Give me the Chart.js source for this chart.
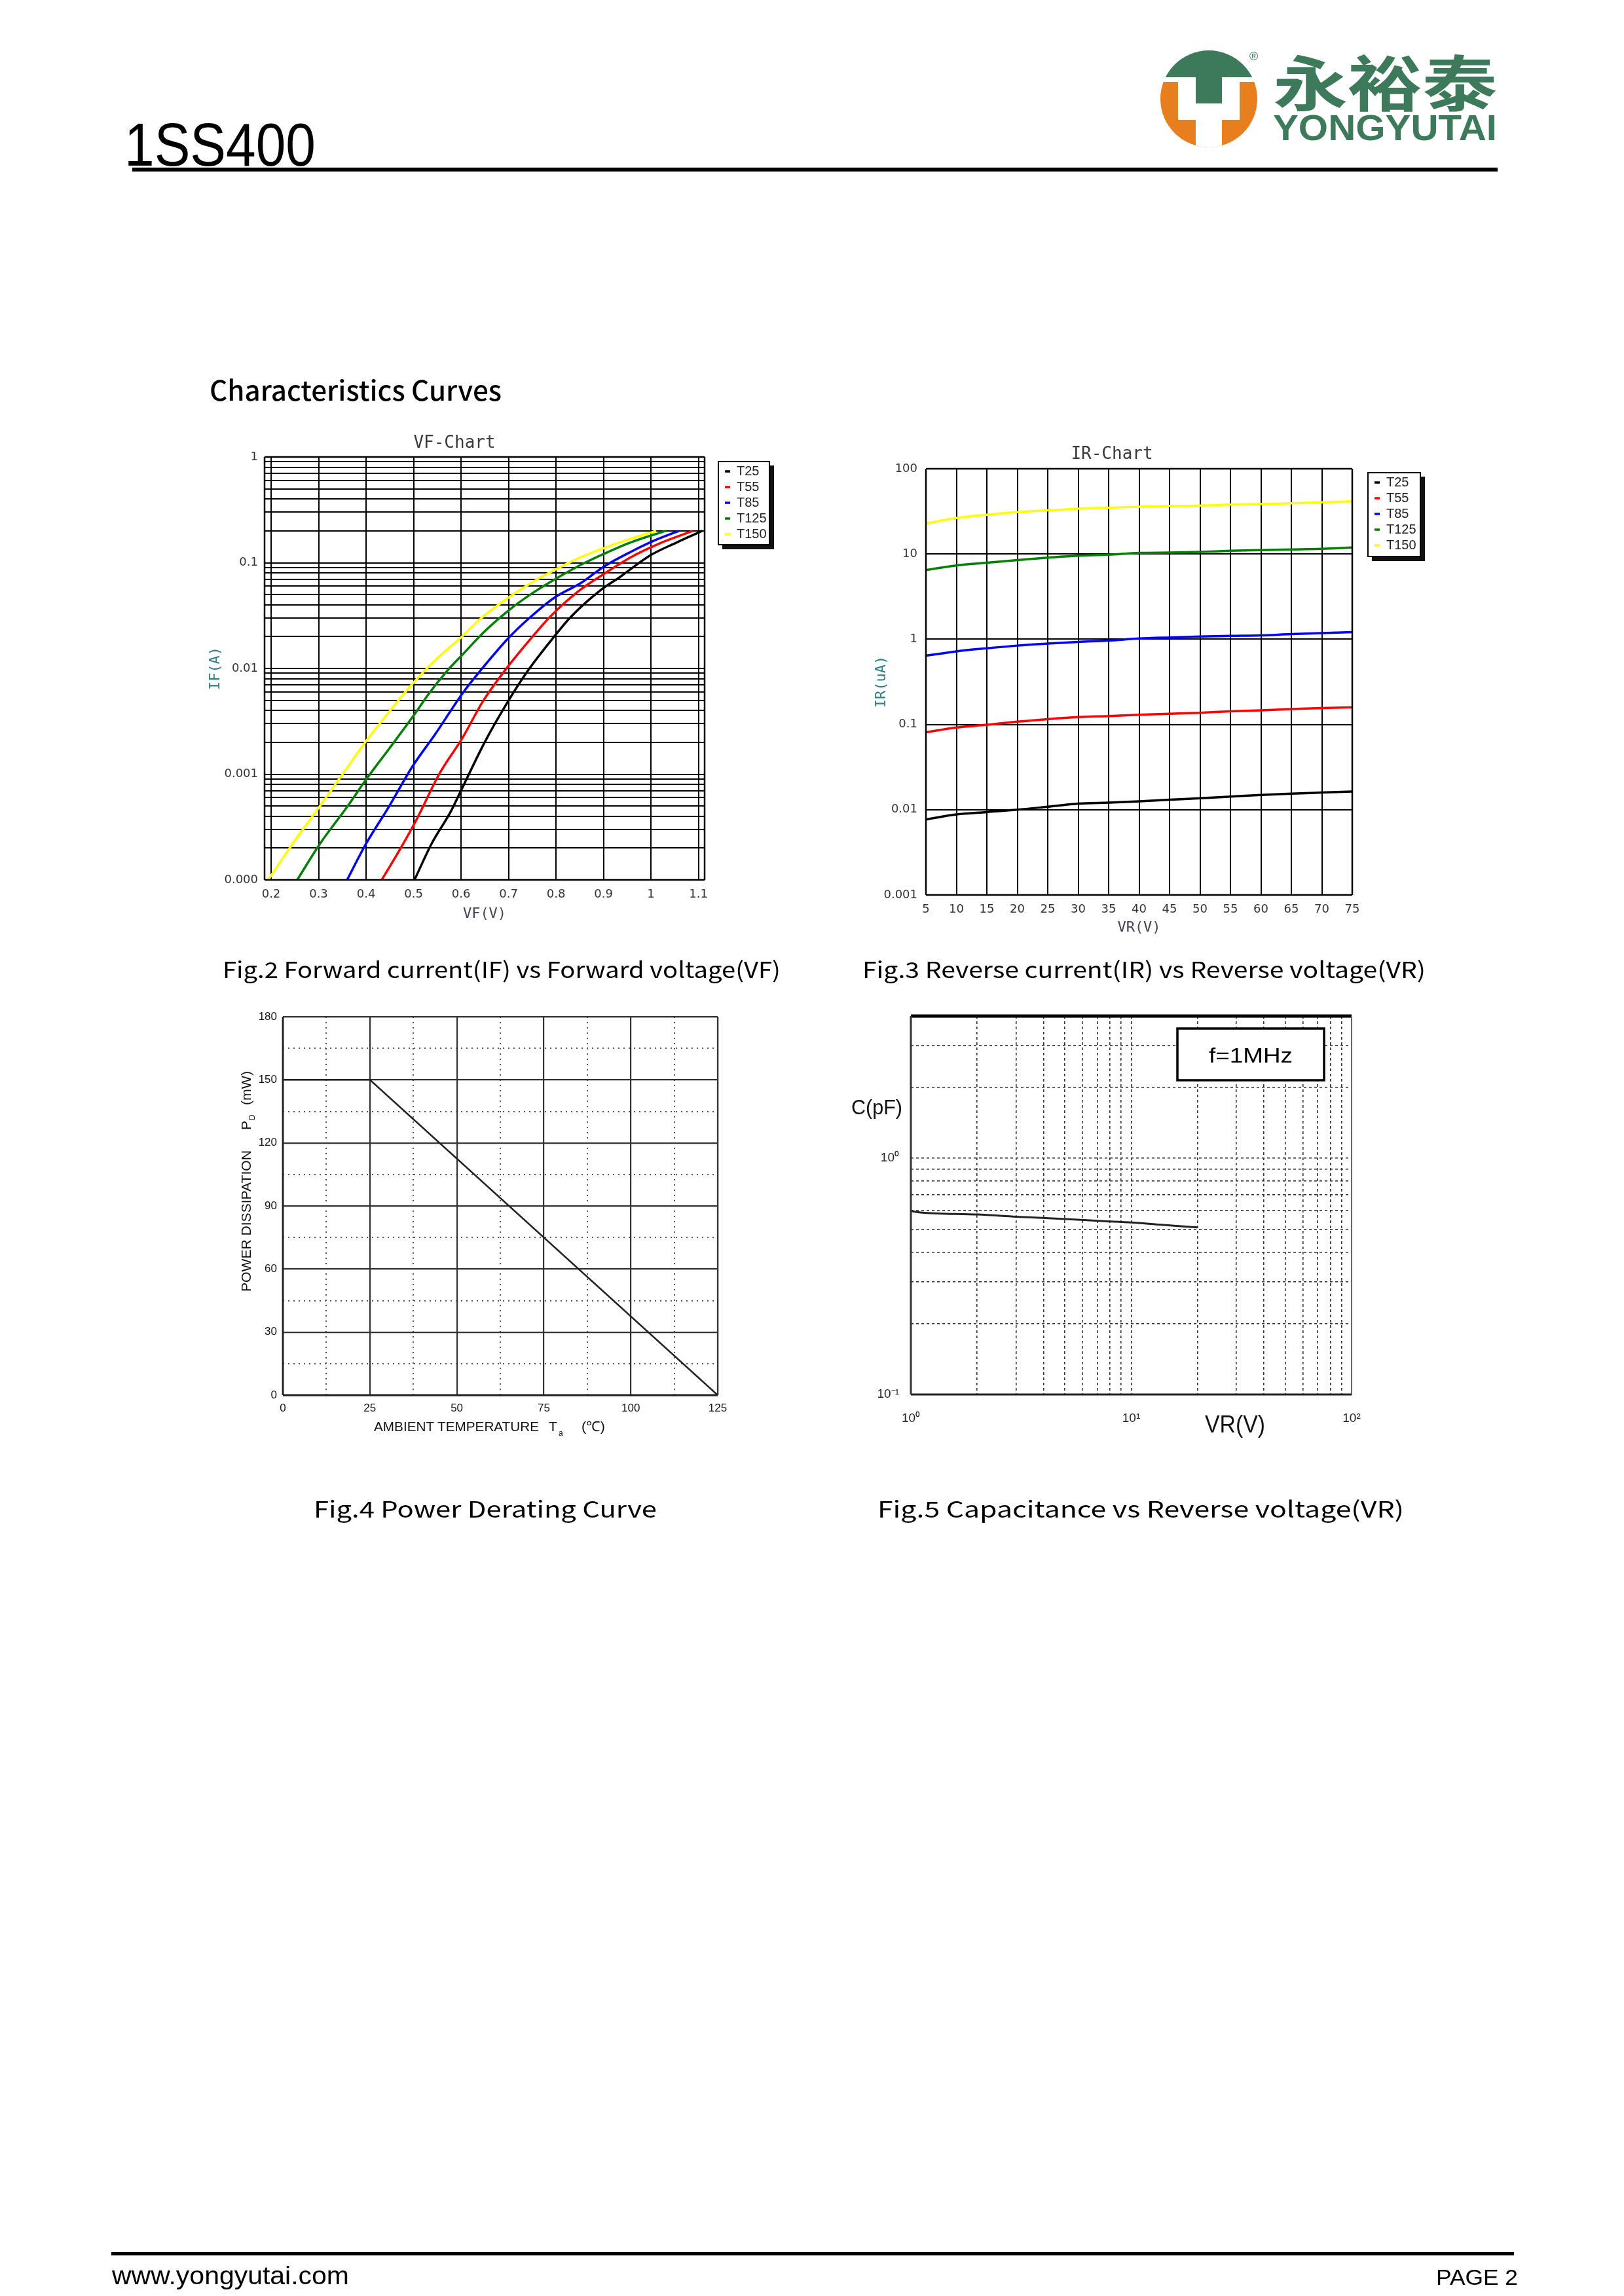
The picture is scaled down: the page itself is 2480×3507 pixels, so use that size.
<!DOCTYPE html>
<html><head><meta charset="utf-8">
<script src="https://cdn.jsdelivr.net/npm/chart.js@4.4.1/dist/chart.umd.min.js"></script>
<style>
html,body{margin:0;padding:0;background:#fff;}
body{width:2480px;height:3507px;position:relative;overflow:hidden;}
canvas{position:absolute;}
#page{position:absolute;left:0;top:0;pointer-events:none;}
</style></head><body>
<canvas id="vf" width="893" height="751" style="left:300px;top:668px"></canvas>
<canvas id="ir" width="865" height="756" style="left:1320px;top:686px"></canvas>
<canvas id="pd" width="746" height="648" style="left:380px;top:1523px"></canvas>
<canvas id="cap" width="784" height="668" style="left:1320px;top:1522px"></canvas>

<svg id="page" xmlns="http://www.w3.org/2000/svg" width="2480" height="3507" viewBox="0 0 2480 3507">
  <!-- header -->
  <text x="190" y="253" font-family="Liberation Sans, Arial, sans-serif" font-size="93" textLength="292" lengthAdjust="spacingAndGlyphs" fill="#000">1SS400</text>
  <rect x="202" y="256" width="2085" height="6" fill="#000"/>
  <defs><clipPath id="lc"><circle cx="1846" cy="151" r="74"/></clipPath></defs>
  <g clip-path="url(#lc)">
    <rect x="1765" y="70" width="165" height="48" fill="#3d7a5b"/>
    <rect x="1765" y="125" width="165" height="110" fill="#e77f1f"/>
    <rect x="1799" y="125" width="94" height="58" fill="#fff"/>
    <rect x="1826" y="183" width="40" height="52" fill="#fff"/>
  </g>
  <rect x="1826" y="116" width="40" height="42" fill="#3d7a5b"/>
  <text x="1908" y="92" font-family="Liberation Sans, Arial, sans-serif" font-size="18" fill="#3d7a5b">®</text>
  <text x="1944" y="162" font-family="Noto Sans CJK SC, sans-serif" font-weight="700" font-size="92" textLength="342" lengthAdjust="spacingAndGlyphs" fill="#3d7a5b">永裕泰</text>
  <text x="1944" y="214" font-family="Liberation Sans, Arial, sans-serif" font-weight="700" font-size="56" textLength="342" lengthAdjust="spacingAndGlyphs" fill="#3d7a5b">YONGYUTAI</text>

  <text x="320" y="612" font-family="Noto Sans CJK JP, sans-serif" font-weight="500" font-size="42" textLength="446" lengthAdjust="spacingAndGlyphs" fill="#000">Characteristics Curves</text>

  <!-- chart titles -->
  <text x="694" y="684" text-anchor="middle" font-family="DejaVu Sans Mono, monospace" font-size="26" fill="#3a3a3a">VF-Chart</text>
  <text x="1698" y="701" text-anchor="middle" font-family="DejaVu Sans Mono, monospace" font-size="26" fill="#3a3a3a">IR-Chart</text>

  <!-- captions -->
  <text x="340" y="1494" font-family="Noto Sans CJK JP, sans-serif" font-size="34" textLength="852" lengthAdjust="spacingAndGlyphs" fill="#000">Fig.2 Forward current(IF) vs Forward voltage(VF)</text>
  <text x="1317" y="1494" font-family="Noto Sans CJK JP, sans-serif" font-size="34" textLength="860" lengthAdjust="spacingAndGlyphs" fill="#000">Fig.3 Reverse current(IR) vs Reverse voltage(VR)</text>
  <text x="479" y="2318" font-family="Noto Sans CJK JP, sans-serif" font-size="34" textLength="524" lengthAdjust="spacingAndGlyphs" fill="#000">Fig.4 Power Derating Curve</text>
  <text x="1340" y="2318" font-family="Noto Sans CJK JP, sans-serif" font-size="34" textLength="804" lengthAdjust="spacingAndGlyphs" fill="#000">Fig.5 Capacitance vs Reverse voltage(VR)</text>

  <!-- power derating axis titles -->
  <g transform="translate(383,1973) rotate(-90)" font-family="Liberation Sans, Arial, sans-serif" font-size="21" fill="#111">
    <text x="0" y="0" textLength="216" lengthAdjust="spacingAndGlyphs">POWER DISSIPATION</text>
    <text x="247" y="0">P</text>
    <text x="262" y="6" font-size="12">D</text>
    <text x="285" y="0" textLength="52" lengthAdjust="spacingAndGlyphs">(mW)</text>
  </g>
  <g font-family="Liberation Sans, Arial, sans-serif" font-size="21" fill="#111">
    <text x="571" y="2186" textLength="252" lengthAdjust="spacingAndGlyphs">AMBIENT TEMPERATURE</text>
    <text x="838" y="2186">T</text>
    <text x="853" y="2193" font-size="12">a</text>
    <text x="888" y="2186" textLength="36" lengthAdjust="spacingAndGlyphs">(℃)</text>
  </g>

  <!-- capacitance texts -->
  <text x="1300" y="1702" font-family="Liberation Sans, Arial, sans-serif" font-size="32" textLength="78" lengthAdjust="spacingAndGlyphs" fill="#111">C(pF)</text>
  <text x="1840" y="2188" font-family="Liberation Sans, Arial, sans-serif" font-size="37" textLength="92" lengthAdjust="spacingAndGlyphs" fill="#111">VR(V)</text>
  <rect x="1798" y="1571" width="224" height="79" fill="#fff" stroke="#000" stroke-width="3.5"/>
  <text x="1910" y="1623" text-anchor="middle" font-family="Liberation Sans, Arial, sans-serif" font-size="32" textLength="128" lengthAdjust="spacingAndGlyphs" fill="#000">f=1MHz</text>

  <!-- footer -->
  <rect x="170" y="3440" width="2142" height="5" fill="#000"/>
  <text x="171" y="3489" font-family="Liberation Sans, Arial, sans-serif" font-size="38" textLength="362" lengthAdjust="spacingAndGlyphs" fill="#000">www.yongyutai.com</text>
  <text x="2193" y="3490" font-family="Liberation Sans, Arial, sans-serif" font-size="34" textLength="125" lengthAdjust="spacingAndGlyphs" fill="#000">PAGE 2</text>
</svg>

<script>
// ---------------- DATA ----------------
const SERIES_LABELS = ['T25', 'T55', 'T85', 'T125', 'T150'];
const SERIES_COLORS = ['#000000', '#ff0000', '#0000ff', '#008000', '#ffff00'];

// Fig.2 VF chart: forward voltage (V) / forward current (A)
const VF_T25  = [0.502, 0.538, 0.578, 0.600, 0.651, 0.700, 0.740, 0.797, 0.829, 0.894, 0.934, 0.998, 1.055, 1.108];
const IF_T25  = [1.0e-4, 2.2e-4, 4.4e-4, 7.0e-4, 2.05e-3, 4.96e-3, 9.4e-3, 0.0202, 0.030, 0.055, 0.0728, 0.117, 0.156, 0.2];
const VF_T55  = [0.433, 0.473, 0.506, 0.554, 0.603, 0.647, 0.700, 0.748, 0.789, 0.845, 0.902, 0.958, 1.015, 1.088];
const IF_T55  = [1.0e-4, 2.0e-4, 3.7e-4, 1.0e-3, 2.2e-3, 4.96e-3, 0.0106, 0.0194, 0.0313, 0.0528, 0.0788, 0.113, 0.15, 0.2];
const VF_T85  = [0.360, 0.400, 0.449, 0.497, 0.546, 0.603, 0.643, 0.700, 0.740, 0.797, 0.853, 0.902, 0.958, 1.007, 1.059];
const IF_T85  = [1.0e-4, 2.2e-4, 5.0e-4, 1.17e-3, 2.4e-3, 5.8e-3, 9.8e-3, 0.0194, 0.0289, 0.0468, 0.0645, 0.0925, 0.127, 0.162, 0.2];
const VF_T125 = [0.255, 0.303, 0.360, 0.400, 0.449, 0.506, 0.530, 0.570, 0.603, 0.651, 0.700, 0.748, 0.805, 0.861, 0.902, 0.958, 1.031];
const IF_T125 = [1.0e-4, 2.2e-4, 4.9e-4, 8.9e-4, 1.75e-3, 3.9e-3, 5.6e-3, 9.4e-3, 0.0135, 0.0227, 0.0353, 0.0507, 0.0728, 0.1, 0.122, 0.156, 0.2];
const VF_T150 = [0.194, 0.239, 0.303, 0.356, 0.400, 0.449, 0.497, 0.546, 0.603, 0.643, 0.700, 0.748, 0.805, 0.853, 0.902, 0.958, 1.011];
const IF_T150 = [1.0e-4, 2.0e-4, 5.0e-4, 1.08e-3, 2.05e-3, 3.9e-3, 7.1e-3, 0.012, 0.0202, 0.030, 0.0468, 0.0645, 0.089, 0.113, 0.138, 0.169, 0.2];
const VF_X_TICKS  = [0.2, 0.3, 0.4, 0.5, 0.6, 0.7, 0.8, 0.9, 1.0, 1.1];
const VF_X_LABELS = ['0.2', '0.3', '0.4', '0.5', '0.6', '0.7', '0.8', '0.9', '1', '1.1'];
const VF_Y_DECADES = [1e-4, 1e-3, 1e-2, 1e-1, 1];
const VF_Y_LABELS  = ['0.000', '0.001', '0.01', '0.1', '1'];

// Fig.3 IR chart: reverse voltage (V) / reverse current (uA)
const VR_POINTS = [5, 10, 15, 20, 25, 30, 35, 40, 45, 50, 55, 60, 65, 70, 75];
const IR_T25  = [0.00769, 0.00881, 0.00938, 0.0100, 0.01084, 0.01177, 0.0121, 0.01254, 0.01312, 0.01361, 0.01425, 0.0149, 0.01545, 0.0159, 0.01633];
const IR_T55  = [0.0811, 0.0922, 0.0991, 0.108, 0.1156, 0.122, 0.1255, 0.130, 0.1336, 0.1374, 0.1425, 0.1464, 0.1517, 0.156, 0.159];
const IR_T85  = [0.641, 0.721, 0.783, 0.842, 0.889, 0.931, 0.965, 1.02, 1.05, 1.075, 1.095, 1.11, 1.15, 1.18, 1.21];
const IR_T125 = [6.47, 7.34, 7.9, 8.5, 9.05, 9.55, 9.8, 10.3, 10.4, 10.6, 10.9, 11.1, 11.3, 11.5, 11.9];
const IR_T150 = [22.8, 26.4, 28.9, 31.0, 32.5, 34.0, 34.9, 35.9, 36.6, 36.9, 37.9, 38.6, 39.3, 40.4, 41.5];
const IR_X_TICKS  = [5, 10, 15, 20, 25, 30, 35, 40, 45, 50, 55, 60, 65, 70, 75];
const IR_Y_DECADES = [0.001, 0.01, 0.1, 1, 10, 100];
const IR_Y_LABELS  = ['0.001', '0.01', '0.1', '1', '10', '100'];

// Fig.4 power derating
const PD_TEMP  = [0, 25, 125];
const PD_POWER = [150, 150, 0];
const PD_X_TICKS = [0, 25, 50, 75, 100, 125];
const PD_X_MINOR = [12.5, 37.5, 62.5, 87.5, 112.5];
const PD_Y_TICKS = [0, 30, 60, 90, 120, 150, 180];
const PD_Y_MINOR = [15, 45, 75, 105, 135, 165];

// Fig.5 capacitance
const CAP_VR = [1, 1.15, 2, 3, 5, 7.5, 10, 13, 16, 20];
const CAP_C  = [0.597, 0.588, 0.578, 0.566, 0.553, 0.542, 0.535, 0.525, 0.517, 0.51];
const CAP_X_DECADES = [1, 10, 100];
const CAP_X_LABELS  = ['10\u2070', '10\u00b9', '10\u00b2'];
const CAP_Y_DECADES = [0.1, 1];
const CAP_Y_LABELS  = ['10\u207b\u00b9', '10\u2070'];

// ---------------- HELPERS ----------------
function pts(xs, ys) { return xs.map((x, i) => ({ x: x, y: ys[i] })); }
function logTicks(minExp, maxVal) {
  const out = [];
  let e = minExp;
  while (true) {
    for (let k = 1; k <= 9; k++) {
      const v = parseFloat((k * Math.pow(10, e)).toPrecision(6));
      if (v > maxVal * 1.0000001) return out;
      out.push(v);
    }
    e++;
  }
}
function pick(v, keys, labels) {
  for (let i = 0; i < keys.length; i++) if (Math.abs(v / keys[i] - 1) < 1e-6) return labels[i];
  return '';
}
function setTicks(arr) { return (s) => { s.ticks = arr.map(v => ({ value: v })); }; }

const framePlugin = {
  id: 'frame',
  afterDraw(chart, args, o) {
    if (!o || !o.sides) return;
    const ctx = chart.ctx, a = chart.chartArea, s = o.sides;
    ctx.save();
    ctx.setLineDash([]);
    const ln = (x1, y1, x2, y2, st) => { ctx.beginPath(); ctx.lineWidth = st[0]; ctx.strokeStyle = st[1]; ctx.moveTo(x1, y1); ctx.lineTo(x2, y2); ctx.stroke(); };
    ln(a.left, a.top, a.right, a.top, s.top);
    ln(a.right, a.top, a.right, a.bottom, s.right);
    ln(a.left, a.bottom, a.right, a.bottom, s.bottom);
    ln(a.left, a.top, a.left, a.bottom, s.left);
    ctx.restore();
  }
};
const legendFix = {
  id: 'legendFix',
  beforeLayout(chart, args, o) {
    const lg = chart.legend;
    if (lg && o && o.width && !lg.__fixed) {
      const orig = lg.fit;
      lg.fit = function () { orig.call(this); if (this.options.display) this.width = o.width; };
      lg.__fixed = true;
    }
  },
  afterDraw(chart, args, o) {
    if (!o || !o.box) return;
    const ctx = chart.ctx, [x0, y0, x1, y1] = o.box;
    ctx.save();
    ctx.fillStyle = '#111';
    ctx.fillRect(x1, y0 + 6, 7, y1 - y0);
    ctx.fillRect(x0 + 6, y1, x1 - x0 + 1, 7);
    ctx.strokeStyle = '#000'; ctx.lineWidth = 2; ctx.setLineDash([]);
    ctx.strokeRect(x0, y0, x1 - x0, y1 - y0);
    ctx.restore();
  }
};
Chart.register(framePlugin, legendFix);
Chart.defaults.font.family = "'Liberation Sans', Arial, sans-serif";
Chart.defaults.color = '#222';

function curve(label, data, color) {
  return { label: label, data: data, borderColor: color, backgroundColor: color, borderWidth: 3.5,
           pointRadius: 0, fill: false, cubicInterpolationMode: 'monotone' };
}
function legendOpts(titleSize) {
  return { display: true, position: 'right', align: 'start',
    title: { display: true, text: ' ', padding: 0, font: { size: titleSize, lineHeight: 1 } },
    labels: { usePointStyle: true, pointStyle: 'line', pointStyleWidth: 8, boxWidth: 8, padding: 4,
              color: '#222', font: { family: "'Liberation Sans', Arial, sans-serif", size: 20 } } };
}
const tickFont = { family: "'DejaVu Sans', sans-serif", size: 18 };
const monoTitle = { family: "'DejaVu Sans Mono', monospace", size: 22 };
const black2 = { color: '#000', lineWidth: 2, drawTicks: false };
const allBlack = { top: [2.5, '#000'], right: [2.5, '#000'], bottom: [2.5, '#000'], left: [2.5, '#000'] };
const gapAxis = (w) => ({ type: 'linear', position: 'right', display: true, grid: { display: false, drawTicks: false },
                          border: { display: false }, ticks: { display: false }, afterFit: s => { s.width = w; } });

// ---------------- FIG 2 ----------------
const VF_SETS = [[VF_T25, IF_T25], [VF_T55, IF_T55], [VF_T85, IF_T85], [VF_T125, IF_T125], [VF_T150, IF_T150]];
new Chart(document.getElementById('vf'), {
  type: 'line',
  data: { datasets: VF_SETS.map((p, i) => curve(SERIES_LABELS[i], pts(p[0], p[1]), SERIES_COLORS[i])) },
  options: {
    responsive: false, animation: false, devicePixelRatio: 1,
    layout: { padding: { top: 30, left: 0, right: 0, bottom: 0 } },
    scales: {
      x: { type: 'linear', min: 0.1862, max: 1.113, grid: black2, border: { display: false },
           afterBuildTicks: setTicks(VF_X_TICKS), afterFit: s => { s.height = 75; },
           ticks: { autoSkip: false, maxRotation: 0, padding: 12, color: '#333', font: tickFont,
                    callback: (v) => pick(v, VF_X_TICKS, VF_X_LABELS) },
           title: { display: true, text: 'VF(V)', color: '#445', font: monoTitle, padding: { top: 0, bottom: 10 } } },
      y: { type: 'logarithmic', min: 1e-4, max: 1, grid: black2, border: { display: false },
           afterBuildTicks: setTicks(logTicks(-4, 1)), afterFit: s => { s.width = 104; },
           ticks: { autoSkip: false, padding: 10, color: '#333', font: tickFont,
                    callback: (v) => pick(v, VF_Y_DECADES, VF_Y_LABELS) },
           title: { display: true, text: 'IF(A)', color: '#2f7f86', font: monoTitle, padding: { top: 16, bottom: 0 } } },
      gap: gapAxis(27)
    },
    plugins: {
      legend: legendOpts(8), tooltip: { enabled: false },
      frame: { sides: allBlack },
      legendFix: { width: 90, box: [797, 37, 875, 164] }
    }
  }
});

// ---------------- FIG 3 ----------------
const IR_SETS = [IR_T25, IR_T55, IR_T85, IR_T125, IR_T150];
new Chart(document.getElementById('ir'), {
  type: 'line',
  data: { datasets: IR_SETS.map((s, i) => curve(SERIES_LABELS[i], pts(VR_POINTS, s), SERIES_COLORS[i])) },
  options: {
    responsive: false, animation: false, devicePixelRatio: 1,
    layout: { padding: { top: 30, left: 0, right: 0, bottom: 0 } },
    scales: {
      x: { type: 'linear', min: 5, max: 75, grid: black2, border: { display: false },
           afterBuildTicks: setTicks(IR_X_TICKS), afterFit: s => { s.height = 75; },
           ticks: { autoSkip: false, maxRotation: 0, padding: 12, color: '#333', font: tickFont },
           title: { display: true, text: 'VR(V)', color: '#445', font: monoTitle, padding: { top: 0, bottom: 12 } } },
      y: { type: 'logarithmic', min: 0.001, max: 100, grid: black2, border: { display: false },
           afterBuildTicks: setTicks(IR_Y_DECADES), afterFit: s => { s.width = 94; },
           ticks: { autoSkip: false, padding: 13, color: '#333', font: tickFont,
                    callback: (v) => pick(v, IR_Y_DECADES, IR_Y_LABELS) },
           title: { display: true, text: 'IR(uA)', color: '#2f7f86', font: monoTitle, padding: { top: 13, bottom: 0 } } },
      gap: gapAxis(30)
    },
    plugins: {
      legend: legendOpts(7), tooltip: { enabled: false },
      frame: { sides: allBlack },
      legendFix: { width: 90, box: [769, 36, 849, 164] }
    }
  }
});

// ---------------- FIG 4 ----------------
const pdFont = { family: "'Liberation Sans', Arial, sans-serif", size: 17 };
const dotted = { color: '#555', lineWidth: 2, drawTicks: false };
new Chart(document.getElementById('pd'), {
  type: 'line',
  data: { datasets: [{ label: 'PD', data: pts(PD_TEMP, PD_POWER), borderColor: '#222', borderWidth: 2.5, pointRadius: 0, fill: false, tension: 0 }] },
  options: {
    responsive: false, animation: false, devicePixelRatio: 1,
    layout: { padding: { top: 30, left: 0, right: 30, bottom: 0 } },
    scales: {
      x: { type: 'linear', min: 0, max: 125, grid: { color: '#333', lineWidth: 2.2, drawTicks: false }, border: { display: false },
           afterBuildTicks: setTicks(PD_X_TICKS), afterFit: s => { s.height = 40; },
           ticks: { autoSkip: false, maxRotation: 0, padding: 10, color: '#111', font: pdFont } },
      x2: { type: 'linear', position: 'bottom', min: 0, max: 125, grid: dotted, border: { display: false, dash: [2, 6] },
            afterBuildTicks: setTicks(PD_X_MINOR), afterFit: s => { s.height = 0; }, ticks: { display: false } },
      y: { type: 'linear', min: 0, max: 180, grid: { color: '#333', lineWidth: 2.2, drawTicks: false }, border: { display: false },
           afterBuildTicks: setTicks(PD_Y_TICKS), afterFit: s => { s.width = 52; },
           ticks: { autoSkip: false, padding: 9, color: '#111', font: pdFont } },
      y2: { type: 'linear', position: 'left', min: 0, max: 180, grid: dotted, border: { display: false, dash: [2, 6] },
            afterBuildTicks: setTicks(PD_Y_MINOR), afterFit: s => { s.width = 0; }, ticks: { display: false } }
    },
    plugins: {
      legend: { display: false }, tooltip: { enabled: false },
      frame: { sides: { top: [2.2, '#333'], right: [2.2, '#333'], bottom: [2.8, '#222'], left: [2.8, '#222'] } }
    }
  }
});

// ---------------- FIG 5 ----------------
const capFont = { family: "'Liberation Sans', Arial, sans-serif", size: 19 };
const capGrid = { color: '#333', lineWidth: 1.6, drawTicks: false };
new Chart(document.getElementById('cap'), {
  type: 'line',
  data: { datasets: [{ label: 'C', data: pts(CAP_VR, CAP_C), borderColor: '#222', borderWidth: 3, pointRadius: 0, fill: false, cubicInterpolationMode: 'monotone' }] },
  options: {
    responsive: false, animation: false, devicePixelRatio: 1,
    layout: { padding: { top: 30, left: 0, right: 40, bottom: 0 } },
    scales: {
      x: { type: 'logarithmic', min: 1, max: 100, grid: capGrid, border: { display: false, dash: [4, 4] },
           afterBuildTicks: setTicks(logTicks(0, 100)), afterFit: s => { s.height = 60; },
           ticks: { autoSkip: false, maxRotation: 0, padding: 25, color: '#222', font: capFont,
                    callback: (v) => pick(v, CAP_X_DECADES, CAP_X_LABELS) } },
      y: { type: 'logarithmic', min: 0.1, max: 4, grid: capGrid, border: { display: false, dash: [4, 4] },
           afterBuildTicks: setTicks(logTicks(-1, 4)), afterFit: s => { s.width = 71; },
           ticks: { autoSkip: false, padding: 18, color: '#222', font: capFont,
                    callback: (v) => pick(v, CAP_Y_DECADES, CAP_Y_LABELS) } }
    },
    plugins: {
      legend: { display: false }, tooltip: { enabled: false },
      frame: { sides: { top: [5, '#000'], right: [2, '#666'], bottom: [3, '#222'], left: [3, '#333'] } }
    }
  }
});
</script>
</body></html>
